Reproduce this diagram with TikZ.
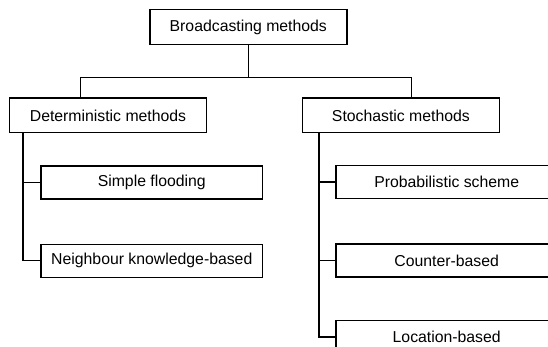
\documentclass[tikz,border=0pt]{standalone}
\usepackage{fontspec}
\setmainfont{Liberation Sans}
\begin{document}
\begin{tikzpicture}[x=1pt,y=-1pt,
  box/.style={draw, line width=1.4pt, inner sep=0pt, minimum height=34pt,
    font=\fontsize{15.8}{19}\selectfont},
  top/.style={box, minimum width=197pt, minimum height=34.6pt},
  child/.style={box, minimum width=221.7pt, minimum height=33pt},
  conn/.style={line width=1.4pt}]
\clip (0,0) rectangle (548,347);
\node[top] (root) at (248.3,27.1) {Broadcasting methods};
\node[top] (det) at (108,115.4) {Deterministic methods};
\node[top] (sto) at (400.9,115.4) {Stochastic methods};
\node[child] (sf) at (151.8,182.5) {Simple flooding};
\node[child] (nk) at (151.8,260.7) {Neighbour knowledge-based};
\node[child] (ps) at (446.7,182.2) {Probabilistic scheme};
\node[child] (cb) at (446.7,260.5) {Counter-based};
\node[child] (lb) at (446.7,337) {Location-based};
\coordinate (dl) at (80.4,77.6);
\coordinate (dr) at (411.5,77.6);
\coordinate (tl) at (23,0);
\coordinate (tr) at (319,0);
\draw[conn] (root.south) -- (root.south |- dl);
\draw[conn] (det.north -| dl) -- (dl) -- (dr) -- (sto.north -| dr);
\draw[conn] (det.south -| tl) |- (nk.west);
\draw[conn] (sf.west -| tl) -- (sf.west);
\draw[conn] (sto.south -| tr) |- (lb.west);
\draw[conn] (ps.west -| tr) -- (ps.west);
\draw[conn] (cb.west -| tr) -- (cb.west);
\end{tikzpicture}
\end{document}
